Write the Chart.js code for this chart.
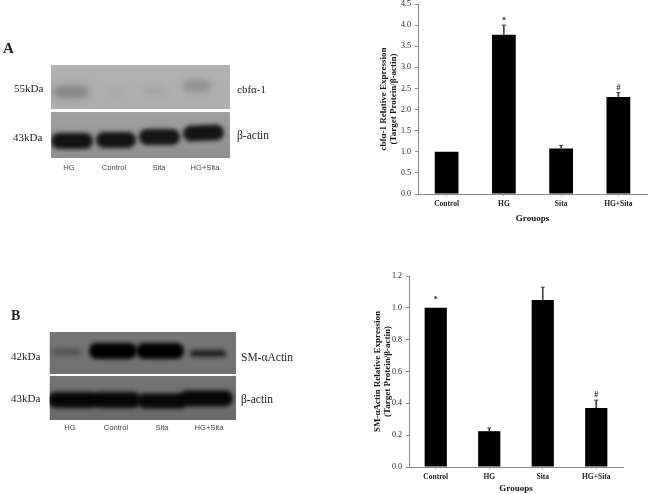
<!DOCTYPE html>
<html><head><meta charset="utf-8">
<script src="https://cdn.jsdelivr.net/npm/chart.js@4"></script>
<style>
html,body{margin:0;padding:0;background:#fff;width:650px;height:494px;overflow:hidden}
canvas{position:absolute;display:block}
#wrap{position:absolute;left:0;top:0;width:650px;height:494px;filter:blur(0.3px)}
.l{position:absolute;white-space:nowrap;font-family:"Liberation Serif",serif;color:#222;line-height:1}
.lane{font-family:"Liberation Sans",sans-serif;font-size:7.6px;color:#445;transform:translateX(-50%)}
</style></head><body>
<div id="wrap">
<canvas id="blots" width="320" height="494" style="left:0;top:0"></canvas>
<div id="cA" style="position:absolute;left:360px;top:0;width:290px;height:224px"><canvas id="chartA"></canvas></div>
<div id="cB" style="position:absolute;left:360px;top:265px;width:290px;height:229px"><canvas id="chartB"></canvas></div>
<div class="l" style="left:3px;top:41px;font-size:15px;font-weight:bold">A</div>
<div class="l" style="left:14px;top:83px;font-size:11px">55kDa</div>
<div class="l" style="left:13px;top:132px;font-size:11px">43kDa</div>
<div class="l" style="left:237px;top:84px;font-size:11px">cbfα-1</div>
<div class="l" style="left:237px;top:130px;font-size:11.5px">β-actin</div>
<div class="l lane" style="left:69px;top:164px">HG</div>
<div class="l lane" style="left:114px;top:164px">Control</div>
<div class="l lane" style="left:159px;top:164px">Sita</div>
<div class="l lane" style="left:205px;top:164px">HG+Sita</div>
<div class="l" style="left:11px;top:309px;font-size:14px;font-weight:bold">B</div>
<div class="l" style="left:11px;top:351px;font-size:11px">42kDa</div>
<div class="l" style="left:11px;top:393px;font-size:11px">43kDa</div>
<div class="l" style="left:241px;top:352px;font-size:11.5px">SM-αActin</div>
<div class="l" style="left:241px;top:394px;font-size:11.5px">β-actin</div>
<div class="l lane" style="left:70px;top:424px">HG</div>
<div class="l lane" style="left:116px;top:424px">Control</div>
<div class="l lane" style="left:162px;top:424px">Sita</div>
<div class="l lane" style="left:209px;top:424px">HG+Sita</div>
</div>
<script>
const categoriesA = ["Control","HG","Sita","HG+Sita"];
const valuesA = [1.0,3.77,1.08,2.3];
const errorsA = [0,0.23,0.07,0.1];
const marksA = ["","*","","#"];
const categoriesB = ["Control","HG","Sita","HG+Sita"];
const valuesB = [1.0,0.225,1.05,0.37];
const errorsB = [0,0.02,0.08,0.05];
const marksB = ["*","","","#"];

const errorPlugin = {
  id:'errs',
  afterDatasetsDraw(chart,args,opts){
    const c=chart.ctx, y=chart.scales.y, x=chart.scales.x;
    c.save();
    opts.errors.forEach((e,i)=>{
      const px=x.getPixelForValue(i), top=y.getPixelForValue(opts.values[i]+e), base=y.getPixelForValue(opts.values[i]);
      if(e>0){
        c.strokeStyle='#3a3a3a';c.lineWidth=1.6;
        c.beginPath();c.moveTo(px,base);c.lineTo(px,top);c.stroke();
        c.lineWidth=1;c.beginPath();c.moveTo(px-2,top);c.lineTo(px+2,top);c.stroke();
      }
      if(opts.marks[i]){
        c.fillStyle='#222';c.font='bold 8px "Liberation Serif"';c.textAlign='center';c.textBaseline='bottom';
        c.fillText(opts.marks[i],px,top-(opts.marks[i]==='*'?0:1)-(e>0?0:4));
      }
    });
    c.restore();
  }
};
function make(id,cats,vals,errs,marks,yMax,step,titleLines,yw,xh,padTop,padRight,padLeft,tickFont){
  const font=(s,b)=>({family:'"Liberation Serif", serif',size:s,weight:b?'bold':'normal'});
  return new Chart(document.getElementById(id),{
    type:'bar',
    data:{labels:cats,datasets:[{data:vals,backgroundColor:'#000',borderWidth:0,barPercentage:0.83,categoryPercentage:0.5}]},
    options:{
      responsive:true,maintainAspectRatio:false,animation:false,
      layout:{padding:{top:padTop,right:padRight,left:padLeft,bottom:0}},
      plugins:{legend:{display:false},tooltip:{enabled:false},errs:{errors:errs,values:vals,marks:marks}},
      scales:{
        x:{
          grid:{display:true,drawOnChartArea:false,drawTicks:true,tickLength:2,color:'#999',offset:false},
          border:{color:'#888',width:1},
          ticks:{color:'#222',font:font(tickFont,true),padding:4,maxRotation:0,autoSkip:false},
          title:{display:true,text:'Grouops',color:'#111',font:font(9,true),padding:{top:1,bottom:0}},
          afterFit(s){s.height=xh;s.paddingLeft=0;s.paddingRight=0;}
        },
        y:{
          min:0,max:yMax,
          grid:{display:true,drawOnChartArea:false,drawTicks:true,tickLength:3,color:'#888'},
          border:{color:'#888',width:1},
          ticks:{color:'#222',font:font(8,false),stepSize:step,padding:4,callback:v=>v.toFixed(1)},
          title:{display:true,text:titleLines,color:'#111',font:Object.assign(font(9,true),{lineHeight:1.15}),padding:{top:0,bottom:1}},
          afterFit(s){s.width=yw;s.paddingTop=0;s.paddingBottom=0;}
        }
      }
    },
    plugins:[errorPlugin]
  });
}
make('chartA',categoriesA,valuesA,errorsA,marksA,4.5,0.5,["cbfα-1 Relative Expression","(Target Protein/β-actin)"],40,30,4,3,18,7.5);
make('chartB',categoriesB,valuesB,errorsB,marksB,1.2,0.2,["SM-αActin Relative Expression","(Target Protein/β-actin)"],37,27,11,27,12,7.5);

// Western blot photographs (pictures, not chart marks)
const bc=document.getElementById('blots').getContext('2d');
function panel(x,y,w,h,bg1,bg2,bands){
  bc.save();bc.beginPath();bc.rect(x,y,w,h);bc.clip();
  const g=bc.createLinearGradient(x,y,x,y+h);g.addColorStop(0,bg1);g.addColorStop(1,bg2);
  bc.fillStyle=g;bc.fillRect(x,y,w,h);
  bands.forEach(b=>{
    bc.filter='blur('+b[5]+'px)';bc.fillStyle=b[4];
    bc.save();bc.translate(b[0],b[1]);bc.rotate(b[6]||0);
    bc.beginPath();bc.roundRect(-b[2],-b[3],2*b[2],2*b[3],b[3]);bc.fill();
    bc.restore();
  });
  bc.filter='none';bc.restore();
}
panel(51,65,179,44,'#b2b2b2','#aeaeae',[
  [71,92,18,6,'#808080',4],[115,92,9,3,'#a6a6a6',3],[155,91,11,3,'#a2a2a2',3],[197,86,14,6,'#8e8e8e',3.5]]);
panel(51,112,179,46,'#a0a0a0','#8f8f8f',[
  [72,141,21,8,'#141414',2],[116,140,20,8,'#141414',2],[159.5,137,20.5,8,'#141414',2],[203.5,133,20.5,8,'#141414',2,-0.03]]);
panel(49.5,332,186.5,42,'#767676','#707070',[
  [67,352,15,3,'#505050',2.5],[113,351,24,8,'#000',2],[160,351,24,8,'#000',2],[208,353.5,18,3.5,'#222',2]]);
panel(49.5,376,186.5,44,'#747474','#6a6a6a',[
  [73,400,25,8,'#080808',2],[116,400,25,8,'#080808',2],[162,401,25,7.5,'#080808',2],[206,398.5,27,8,'#080808',2]]);
</script>
</body></html>
